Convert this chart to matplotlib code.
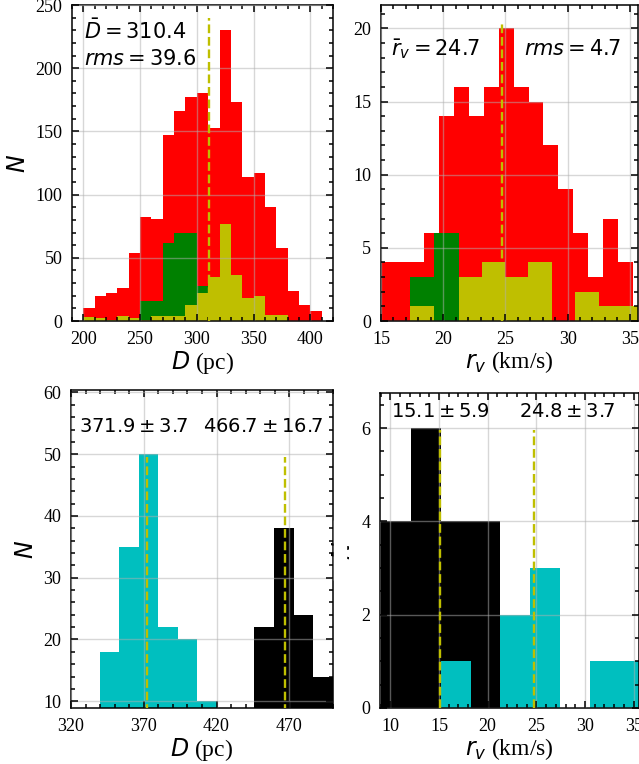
import numpy as np
import matplotlib
matplotlib.use("Agg")
import matplotlib.pyplot as plt
from matplotlib.ticker import MultipleLocator
from matplotlib.patches import Rectangle

plt.rcParams['font.family'] = 'serif'
plt.rcParams['font.serif'] = ['Liberation Serif', 'DejaVu Serif']
plt.rcParams['mathtext.fontset'] = 'dejavusans'

# --- top left: distance histograms (10 pc bins)
d_edges = np.arange(200, 420, 10)
d_all = [10, 20, 22, 26, 54, 82, 81, 147, 166, 177, 180, 153, 230, 173, 114, 117, 90, 58, 24, 13, 8]
d_green_edges = [250, 260, 270, 280, 290, 300, 310]
d_green = [16, 16, 62, 70, 70, 28]
d_yellow_edges = np.arange(200, 390, 10)
d_yellow = [3, 2, 1, 4, 2, 1, 4, 4, 4, 13, 22, 35, 77, 36, 18, 20, 5, 5]
d_mean, d_rms, d_line_top = 310.4, 39.6, 240

# --- top right: radial velocity histograms
rv_edges = [14.86, 16.06, 17.26, 18.46, 19.66, 20.86, 22.06, 23.26, 24.46,
            25.66, 26.86, 28.06, 29.26, 30.46, 31.66, 32.86, 34.06, 35.26]
rv_all = [4, 4, 4, 6, 14, 16, 14, 16, 20, 16, 15, 12, 9, 6, 3, 7, 4]
rv_green_edges = [17.3, 19.3, 21.3]
rv_green = [3, 6]
rv_yellow_edges = [17.3, 19.3, 21.25, 23.1, 25.0, 26.85, 28.75, 30.6, 32.5, 34.4, 36.3]
rv_yellow = [1, 0, 3, 4, 3, 4, 0, 2, 1, 1]
rv_mean, rv_rms, rv_line_top = 24.7, 4.7, 20.5

# --- bottom left: two groups in distance
g1_edges = [340, 353.3, 366.7, 380, 393.3, 406.7, 420]
g1_counts = [18, 35, 50, 22, 20, 10]
g2_edges = [446, 459.5, 473, 486.5, 500]
g2_counts = [22, 38, 24, 14]
g_means = [371.9, 466.7]
g_errs = [3.7, 16.7]
g_line_top = 49.6
g_ticks = [320, 370, 420, 470]

# --- bottom right: two groups in radial velocity
v2_edges = [9.06, 12.12, 15.18, 18.24, 21.3]
v2_counts = [4, 6, 4, 4]
v1_edges = [15.18, 18.24, 21.3, 24.36, 27.42, 30.48, 33.54, 36.6]
v1_counts = [1, 0, 2, 3, 0, 1, 1]
v_means = [15.1, 24.8]
v_errs = [5.9, 3.7]
v_line_top = 5.96

W, H = 639, 764
fig = plt.figure(figsize=(W / 100, H / 100), dpi=100)


def rect(l, r, t, b):
    return [l / W, (H - b) / H, (r - l) / W, (b - t) / H]


def style(ax, xmaj, xmin, ymaj, ymin):
    if xmaj is not None:
        ax.xaxis.set_major_locator(MultipleLocator(xmaj))
    ax.xaxis.set_minor_locator(MultipleLocator(xmin))
    ax.yaxis.set_major_locator(MultipleLocator(ymaj))
    ax.yaxis.set_minor_locator(MultipleLocator(ymin))
    ax.tick_params(which='both', direction='in', top=True, right=True, labelsize=13, width=1.1)
    ax.tick_params(which='major', length=5, pad=7)
    ax.tick_params(which='minor', length=2.8)
    for s in ax.spines.values():
        s.set_linewidth(1.1)
    ax.grid(True, color='#b0b0b0', alpha=0.5, lw=1.0)
    ax.set_axisbelow(False)


def hbars(ax, edges, counts, color):
    ax.stairs(counts, edges, fill=True, color=color, lw=0, zorder=1)


vline_kw = dict(color='y', ls='--', lw=1.7, zorder=3)
txt_kw = dict(fontsize=15, ha='left', va='center', family='DejaVu Sans')
pm_kw = dict(txt_kw, fontsize=14)
lab_fs = 17

ax1 = fig.add_axes(rect(72, 333, 5, 321))
hbars(ax1, d_edges, d_all, 'r')
hbars(ax1, d_green_edges, d_green, 'g')
ax1.vlines(d_mean, 0, d_line_top, **vline_kw)
hbars(ax1, d_yellow_edges, d_yellow, 'y')
ax1.set_xlim(190, 420)
ax1.set_ylim(0, 250)
style(ax1, 50, 10, 50, 10)
ax1.text(200.5, 229.6, r'$\bar{D} = %.1f$' % d_mean, **txt_kw)
ax1.text(200.5, 207.5, r'$rms = %.1f$' % d_rms, **txt_kw)
ax1.set_xlabel('$D$ (pc)', fontsize=lab_fs, labelpad=1)
ax1.set_ylabel('$N$', fontsize=lab_fs)

ax2 = fig.add_axes(rect(381, 638.5, 5, 321))
hbars(ax2, rv_edges, rv_all, 'r')
hbars(ax2, rv_green_edges, rv_green, 'g')
hbars(ax2, rv_yellow_edges, rv_yellow, 'y')
ax2.vlines(rv_mean, 0, rv_line_top, **vline_kw)
ax2.set_xlim(15, 35.7)
ax2.set_ylim(0, 21.6)
style(ax2, 5, 1, 5, 1)
ax2.text(15.8, 18.6, r'$\bar{r}_v = %.1f$' % rv_mean, **txt_kw)
ax2.text(26.5, 18.6, r'$rms = %.1f$' % rv_rms, **txt_kw)
ax2.set_xlabel('$r_v$ (km/s)', fontsize=lab_fs, labelpad=1)

ax3 = fig.add_axes(rect(71, 333, 390, 708))
hbars(ax3, g1_edges, g1_counts, 'c')
hbars(ax3, g2_edges, g2_counts, 'k')
for m in g_means:
    ax3.vlines(m, 0, g_line_top, **vline_kw)
style(ax3, None, 10, 10, 2)
ax3.set_xticks(g_ticks)
ax3.set_xlim(320, 500)
ax3.set_ylim(8.9, 60.4)
ax3.text(325.5, 54.5, r'$%.1f \pm %.1f$' % (g_means[0], g_errs[0]), **pm_kw)
ax3.text(411, 54.5, r'$%.1f \pm %.1f$' % (g_means[1], g_errs[1]), **pm_kw)
ax3.set_xlabel('$D$ (pc)', fontsize=lab_fs, labelpad=1)
ax3.set_ylabel('$N$', fontsize=lab_fs)

ax4 = fig.add_axes(rect(380, 638.5, 392.7, 708))
hbars(ax4, v2_edges, v2_counts, 'k')
hbars(ax4, v1_edges, v1_counts, 'c')
for m in v_means:
    ax4.vlines(m, 0, v_line_top, **vline_kw)
ax4.set_xlim(8.94, 35.5)
ax4.set_ylim(0, 6.76)
style(ax4, 5, 1, 2, 0.5)
ax4.text(10.1, 6.36, r'$%.1f \pm %.1f$' % (v_means[0], v_errs[0]), **pm_kw)
ax4.text(23.2, 6.36, r'$%.1f \pm %.1f$' % (v_means[1], v_errs[1]), **pm_kw)
ax4.set_xlabel('$r_v$ (km/s)', fontsize=lab_fs, labelpad=1)
ax4.set_ylabel('$N$', fontsize=lab_fs)
ax4.yaxis.set_label_coords((355 - 380) / 258.5, 0.5)

# the left panel covers most of this label in the original
fig.patches.append(Rectangle((334 / W, (H - 580) / H), 12.5 / W, 60 / H,
                             transform=fig.transFigure, color='white', zorder=5))

fig.savefig('out.png', dpi=100)
